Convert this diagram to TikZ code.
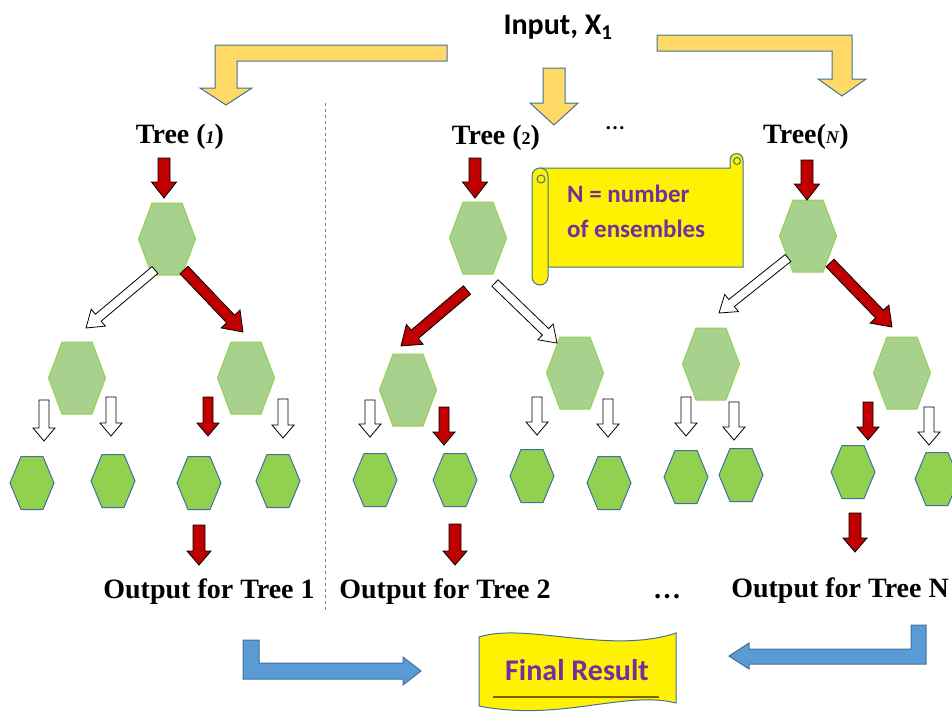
\documentclass[tikz,border=0pt]{standalone}
\usepackage{fontspec}
\setmainfont{Liberation Serif}
\newfontfamily\calibri{Carlito}
\usepackage{tikz}
\usetikzlibrary{calc}
\definecolor{arrowgold}{HTML}{FFD966}
\definecolor{edgeblue}{HTML}{41719C}
\definecolor{leafgreen}{HTML}{92D050}
\definecolor{nodegreen}{HTML}{A9D18E}
\definecolor{darkred}{HTML}{C00000}
\definecolor{boxblue}{HTML}{5B9BD5}
\definecolor{textpurple}{HTML}{7030A0}
\definecolor{lineolive}{HTML}{7F6000}
\tikzset{
  bighexa/.style={fill=nodegreen, draw=leafgreen, line width=1pt},
  smallhexa/.style={fill=leafgreen, draw=edgeblue, line width=1pt},
  redarrow/.style={fill=darkred, draw=black, line width=0.8pt},
  whitearrow/.style={fill=white, draw=black, line width=0.8pt},
  goldarrow/.style={fill=arrowgold, draw=edgeblue, line width=1pt},
  bluearrow/.style={fill=boxblue, draw=edgeblue, line width=1pt},
  yellowbox/.style={fill=yellow, draw=edgeblue, line width=1pt},
  treelabel/.style={font=\bfseries\fontsize{28}{30}\selectfont, anchor=base, inner sep=0pt},
  purplelabel/.style={font=\calibri\bfseries\fontsize{25}{30}\selectfont, text=textpurple, anchor=base west, inner sep=0pt}
}
% small index inside the tree labels
\newcommand{\lowidx}[1]{{\fontsize{18}{18}\selectfont #1}}
% hexagons: name, x, y
\newcommand{\bighex}[3]{\draw[bighexa,shift={(#2,#3)}] (-28.5,0) -- (-15,-36) -- (15,-36) -- (28.5,0) -- (15,36) -- (-15,36) -- cycle; \coordinate (#1) at (#2,#3);}
\newcommand{\smallhex}[3]{\draw[smallhexa,shift={(#2,#3)}] (-22,0) -- (-11,-26.5) -- (11,-26.5) -- (22,0) -- (11,26.5) -- (-11,26.5) -- cycle; \coordinate (#1) at (#2,#3);}
% block arrow: [style]{x1}{y1}{x2}{y2}{shaft}{head}{head length}
\newcommand{\barrow}[8][]{%
  \pgfmathsetmacro{\barang}{atan2(#3-#5,#4-#2)}%
  \pgfmathsetmacro{\barlen}{veclen(#4-#2,#5-#3)}%
  \draw[#1,shift={(#2,#3)},rotate=\barang] (0,-#6) -- (\barlen-#8,-#6) -- (\barlen-#8,-#7) -- (\barlen,0) -- (\barlen-#8,#7) -- (\barlen-#8,#6) -- (0,#6) -- cycle;}

\begin{document}
\begin{tikzpicture}[x=1pt,y=-1pt]
\useasboundingbox (0,0) rectangle (952,716);
% input and the three bent arrows
\node[font=\calibri\bfseries\fontsize{30}{32}\selectfont, anchor=base, inner sep=0pt] (input) at (558,34) {Input, X\textsubscript{1}};
\draw[goldarrow] (447,45) -- (215,45) -- (215,88) -- (200,88) -- (226,105) -- (252,88) -- (237,88) -- (237,61) -- (447,61) -- cycle;
\barrow[goldarrow]{554}{68}{554}{125}{11}{24}{22}
\draw[goldarrow] (657,35) -- (852,35) -- (852,79) -- (866,79) -- (842,96) -- (818,79) -- (832,79) -- (832,51) -- (657,51) -- cycle;

% tree labels
\node[treelabel] (t1) at (180,143) {Tree (\textit{\lowidx{1}})};
\node[treelabel] (t2) at (496,144) {Tree (\lowidx{2})};
\node[treelabel] (tn) at (806,143) {Tree(\textit{\lowidx{N}})};
\node[font=\bfseries\fontsize{20}{20}\selectfont] (topdots) at (615,128) {\ldots};

% separator
\coordinate (dtop) at (325,103);
\coordinate (dbot) at (325,610);
\draw[gray, dashed] (dtop) -- (dbot);

% roots and inner nodes
\bighex{r1}{167}{239}
\bighex{r2}{478}{238}
\bighex{rn}{808}{236}
\bighex{a1}{77}{378}
\bighex{b1}{246}{378}
\bighex{a2}{408}{390}
\bighex{b2}{575}{373}
\bighex{an}{711}{364}
\bighex{bn}{902}{373}

% leaves
\foreach \x/\y [count=\i] in {32/483,113/481,199/483,278/481,375/480,455/480,532/476,609/483,686/477,741/475,853/472,937/479}
  {\smallhex{leaf\i}{\x}{\y}}

% arrows into the roots
\barrow[redarrow]{164}{158}{164}{198}{6}{12.5}{16}
\barrow[redarrow]{475}{158}{475}{198}{6}{12.5}{16}
\barrow[redarrow]{807}{160}{807}{200}{6}{12.5}{16}

% splits
\barrow[whitearrow]{155}{270}{86}{328}{4.5}{11}{16}
\barrow[redarrow]{184}{270}{243}{332}{5.5}{13}{18}
\barrow[redarrow]{467}{290}{401}{346}{5.5}{13}{18}
\barrow[whitearrow]{495}{283}{557}{343}{4.5}{11}{16}
\barrow[whitearrow]{788}{258}{719}{313}{4.5}{11}{16}
\barrow[redarrow]{830}{263}{892}{327}{5.5}{13}{18}

% down to the leaves
\foreach \x/\ya/\yb in {44/400/441,111/397/436,283/399/438,370/400/437,537/397/435,608/399/437,686/397/436,734/402/440,929/407/445}
  {\barrow[whitearrow]{\x}{\ya}{\x}{\yb}{5}{11}{13}}
\foreach \x/\ya/\yb in {208/397/436,444/407/445,868/402/440}
  {\barrow[redarrow]{\x}{\ya}{\x}{\yb}{5}{11}{13}}

% outputs
\barrow[redarrow]{199}{525}{199}{565}{6}{12}{14}
\barrow[redarrow]{455}{524}{455}{565}{6}{12}{14}
\barrow[redarrow]{855}{513}{855}{552}{6}{12}{14}
\node[treelabel] (o1) at (209,598) {Output for Tree 1};
\node[treelabel] (o2) at (445,598) {Output for Tree 2};
\node[treelabel] (on) at (840,597) {Output for Tree N};
\node[treelabel] (botdots) at (667,598) {\ldots};

% scroll note
\draw[yellowbox] (540,168) -- (730,168) -- (730,160) arc[start angle=180,end angle=360,radius=6.5] -- (743,267) -- (540,267) -- cycle;
\draw[yellowbox] (532,176) arc[start angle=180,end angle=360,radius=8] -- (548,277) arc[start angle=0,end angle=180,radius=8] -- cycle;
\draw[yellowbox] (541,179) circle[radius=4];
\draw[yellowbox] (737,161) circle[radius=3.5];
\node[purplelabel] (nis) at (567,202) {N = number};
\node[purplelabel] (nens) at (567,237) {of ensembles};

% final result
\draw[bluearrow] (243,640) -- (243,679) -- (403,679) -- (403,685) -- (421,671) -- (403,657) -- (403,663) -- (259,663) -- (259,640) -- cycle;
\draw[bluearrow] (926,625) -- (926,664) -- (749,664) -- (749,669) -- (729,656) -- (749,643) -- (749,649) -- (911,649) -- (911,625) -- cycle;
\draw[yellowbox] (479,637) .. controls (525,622) and (610,655) .. (676,633) -- (676,703) .. controls (625,690) and (560,722) .. (479,706) -- cycle;
\node[font=\calibri\bfseries\fontsize{30}{32}\selectfont, text=textpurple, anchor=base, inner sep=0pt] (final) at (577,680) {Final Result};
\draw[lineolive, line width=1.5pt] (493,697) -- (659,697);
\end{tikzpicture}
\end{document}
